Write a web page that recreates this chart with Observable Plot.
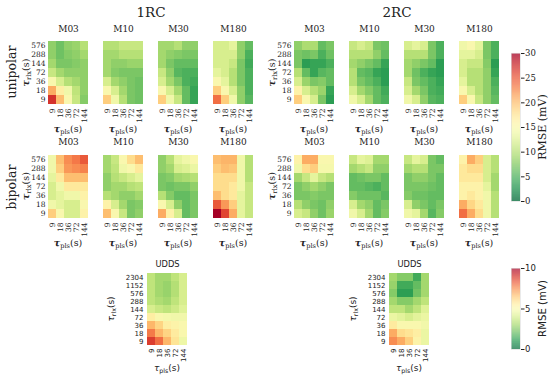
<!DOCTYPE html>
<html>
<head>
<meta charset="utf-8">
<script src="https://cdn.jsdelivr.net/npm/d3@7"></script>
<script src="https://cdn.jsdelivr.net/npm/@observablehq/plot@0.6"></script>
<style>
  body { margin: 0; background: white; }
  #root { position: relative; width: 550px; height: 378px; overflow: hidden; background: white; }
  .lbl { position: absolute; white-space: nowrap; color: #222; line-height: 1; }
</style>
</head>
<body>
<div id="root"></div>
<script>
// ---------------- data ----------------
const plsTicks = ["9", "18", "36", "72", "144"];
const rlxTicks = ["576", "288", "144", "72", "36", "18", "9"];
const rlxTicksUDDS = ["2304", "1152", "576", "288", "144", "72", "36", "18", "9"];
const models = ["M03", "M10", "M30", "M180"];
const groups = ["1RC", "2RC"];
const modes = ["unipolar", "bipolar"];
const cbTicksMain = [0, 5, 10, 15, 20, 25, 30];
const cbTicksUDDS = [0, 5, 10];

// rows: tau_rlx 576 ... 9 ; cols: tau_pls 9 ... 144  (RMSE, mV)
const uni1RC_M03 = [
  [8, 6.5, 8, 8.5, 10],
  [8, 6.5, 7.5, 8, 9],
  [9, 7, 7, 7.5, 8],
  [11, 9, 8, 8, 8],
  [15, 12, 10, 9, 8],
  [21, 16.5, 14, 10.5, 8],
  [27, 20, 15, 11, 7.5]
];
const uni1RC_M10 = [
  [10, 10, 11, 11, 11],
  [9, 9, 10, 10, 10],
  [9, 8, 8, 8.5, 8.5],
  [9, 7.5, 7, 7, 7],
  [12, 9, 8, 7, 6.5],
  [15, 12, 9, 7, 6.5],
  [19, 14, 10, 7, 6.5]
];
const uni1RC_M30 = [
  [9, 9, 10, 8, 8],
  [9, 8, 7.5, 7, 7],
  [9, 7, 6, 6, 6],
  [11, 8, 5.5, 5, 5],
  [12, 9, 7, 5, 4.5],
  [15, 12, 9, 6, 4],
  [19, 14, 11, 6, 4]
];
const uni1RC_M180 = [
  [12, 12, 13, 8, 6],
  [12, 12, 12, 8, 5],
  [12, 12, 11, 7, 4.5],
  [13, 12, 10, 7, 5],
  [15, 13, 10, 7, 5],
  [19, 15, 12, 8, 5],
  [24, 19, 14, 8, 5.5]
];
const uni2RC_M03 = [
  [8, 9.5, 9.5, 6, 7],
  [7, 6.5, 7, 5, 6.5],
  [7, 3.5, 4, 4, 5],
  [10, 6, 4, 5.5, 6],
  [12, 8.5, 7, 7.5, 6],
  [16, 12, 10, 8.5, 4],
  [19, 15, 12, 7, 3.5]
];
const uni2RC_M10 = [
  [11, 12, 11, 7, 6.5],
  [10, 10, 10, 8, 6],
  [9, 8, 7, 6, 4],
  [10, 6, 5.5, 4, 3.5],
  [10, 7, 6, 5, 3.5],
  [12, 9, 7.5, 6, 4.5],
  [14, 12, 9, 6, 5]
];
const uni2RC_M30 = [
  [12, 13, 12, 7, 5],
  [10, 10, 10, 7, 5],
  [9, 8, 7, 6, 3.5],
  [9, 6.5, 5, 4, 3.5],
  [11, 7, 6, 5, 4],
  [12, 9, 7, 5, 4.5],
  [14, 12, 8, 5.5, 5]
];
const uni2RC_M180 = [
  [14, 15, 13, 7, 5],
  [13, 13, 12, 7, 5],
  [12, 11, 11, 7.5, 3.5],
  [12, 10, 10, 8, 4],
  [13, 10, 10, 8, 5],
  [15, 12, 10, 8, 5.5],
  [19, 15, 11, 8, 6]
];
const bi1RC_M03 = [
  [14, 20, 22.5, 23.5, 25],
  [14, 19, 22, 22.5, 23],
  [13, 17, 20, 20, 20],
  [12, 14, 17, 17, 17],
  [12, 13, 14, 14, 16],
  [14, 13, 12, 12, 15],
  [19, 15, 12, 12, 16]
];
const bi1RC_M10 = [
  [9, 11, 15, 18, 20],
  [9, 10.5, 14, 15, 17],
  [8, 10, 11, 12, 13],
  [8, 9, 9, 10, 10.5],
  [10, 9, 8, 8, 9],
  [16, 12, 9, 7, 7.5],
  [20, 15, 11, 7, 8]
];
const bi1RC_M30 = [
  [8, 10, 13, 14, 15],
  [8, 9, 12, 12.5, 13.5],
  [7, 7.5, 9, 9.5, 10],
  [7, 6.5, 7, 7, 8],
  [10, 7.5, 6, 6, 7],
  [15, 12, 8, 6, 7],
  [21, 16, 12, 6, 7]
];
const bi1RC_M180 = [
  [20, 20.5, 20.5, 14, 10],
  [19, 20, 19.5, 14, 10],
  [18, 18, 18, 14, 10],
  [18, 18, 17, 14, 11],
  [20, 18, 17, 13, 11],
  [25, 22, 19, 13, 11],
  [30, 26, 21, 13, 11]
];
const bi2RC_M03 = [
  [16, 21, 21, 15, 15],
  [14, 18, 19, 14.5, 14.5],
  [9, 11, 13, 11, 10],
  [7, 8, 9, 8, 7],
  [7, 7, 7.5, 7, 7],
  [10, 8, 7, 6.5, 8],
  [12, 11, 8, 6.5, 8.5]
];
const bi2RC_M10 = [
  [11, 13, 12.5, 9, 9],
  [9, 10, 11, 8, 8],
  [6, 6.5, 7, 7, 6],
  [6, 6, 5.5, 5, 6],
  [7.5, 6.5, 6.5, 6.5, 5.5],
  [12, 9, 8, 6, 7],
  [14, 12, 9, 6, 7.5]
];
const bi2RC_M30 = [
  [11, 13, 12, 7, 6],
  [9, 10, 10, 7, 7],
  [7, 8, 8, 7, 6],
  [7, 7, 7, 6.5, 6],
  [7.5, 6.5, 6.5, 6, 6],
  [12, 8, 7, 6, 7],
  [14, 13, 9, 5.5, 7.5]
];
const bi2RC_M180 = [
  [16, 21, 19, 12, 10],
  [17, 18, 18, 12, 10],
  [17, 17, 17, 12, 9],
  [16, 16, 16, 13, 9],
  [16, 17, 16, 14, 10],
  [21, 18.5, 17, 14, 10],
  [24, 21, 18, 14, 10]
];
// UDDS rows: tau_rlx 2304 ... 9
const udds1RC = [
  [3.5, 3, 3, 3.5, 4],
  [3.5, 3, 2.8, 3.3, 4],
  [3.5, 3, 2.8, 3.3, 4],
  [3.5, 3.2, 3, 3.5, 4],
  [4, 3.7, 3.5, 3.8, 4.2],
  [5.5, 5, 4.8, 4.7, 4.7],
  [6.8, 6.2, 5.5, 5.3, 5],
  [7.8, 6.8, 6.2, 5.6, 5],
  [8.8, 8, 6.8, 5.8, 4.6]
];
const udds2RC = [
  [3, 2.5, 2.5, 1.5, 3],
  [2.8, 1.5, 1.5, 2, 3],
  [2.5, 1.2, 1.2, 2.2, 3],
  [3, 2.5, 2.5, 3, 3.5],
  [3.5, 3.5, 3, 3.5, 4.2],
  [4.5, 4.3, 4, 4.3, 4.5],
  [5.6, 5, 5, 5, 4.7],
  [7, 6, 5.8, 5.5, 4.5],
  [7.5, 7, 6.3, 5.3, 4.5]
];

// ---------------- drawing ----------------
const root = document.getElementById("root");
const serif = "'DejaVu Serif', serif";
const sans = "'DejaVu Sans', sans-serif";
const ink = "#222";

function tauLabel(sel, sub, fs, bold) {
  sel.append("tspan").text("τ").attr("font-style", "italic").attr("font-weight", bold ? "bold" : null);
  sel.append("tspan").text(sub).attr("font-size", fs * 0.7).attr("dy", fs * 0.22);
  sel.append("tspan").text("(s)").attr("dy", -fs * 0.22);
}

function heat(o) {
  const {values, rows, left, top, w, h, max, title, showY, font, fs, titleFs, labelFs, titleGap, ylabelOff} = o;
  const data = rows.flatMap((r, i) => plsTicks.map((c, j) => ({pls: c, rlx: r, v: values[i][j]})));
  const mL = 50, mR = 6, mT = 24, mB = 40;
  const svg = Plot.plot({
    width: mL + w + mR, height: mT + h + mB,
    marginLeft: mL, marginRight: mR, marginTop: mT, marginBottom: mB,
    style: {background: "transparent", fontFamily: font, fontSize: fs + "px", overflow: "visible", color: ink},
    x: {domain: plsTicks, padding: 0, tickRotate: -90, tickSize: 0, tickPadding: 2, label: null},
    y: {domain: rows, padding: 0, tickSize: 0, tickPadding: 3, label: null, axis: showY ? "left" : null},
    color: {type: "linear", scheme: "RdYlGn", reverse: true, domain: [0, max]},
    marks: [
      Plot.cell(data, {x: "pls", y: "rlx", fill: "v", inset: 0, shapeRendering: "crispEdges"}),
      Plot.text([title], {frameAnchor: "top", lineAnchor: "middle", dy: -titleGap, fontSize: titleFs, fill: ink})
    ]
  });
  svg.style.position = "absolute";
  svg.style.left = (left - mL) + "px";
  svg.style.top = (top - mT) + "px";
  const s = d3.select(svg);
  const xl = s.append("text").attr("x", mL + w / 2).attr("y", mT + h + o.xlabelY)
    .attr("text-anchor", "middle").attr("font-size", labelFs).attr("fill", ink).attr("font-family", font);
  tauLabel(xl, "pls", labelFs, font === serif);
  if (showY) {
    const yl = s.append("text")
      .attr("transform", `translate(${mL - ylabelOff},${mT + h / 2}) rotate(-90)`)
      .attr("text-anchor", "middle").attr("font-size", labelFs).attr("fill", ink).attr("font-family", font);
    tauLabel(yl, "rlx", labelFs, font === serif);
  }
  root.appendChild(svg);
}

function colorbar(o) {
  const {left, top, w, h, max, ticks, font, fs, labelFs, labelX} = o;
  const step = max / 300;
  const stops = d3.range(0, 300).map(i => i * step);
  const mL = 0, mR = 40, mT = 8, mB = 8;
  const svg = Plot.plot({
    width: mL + w + mR, height: mT + h + mB,
    marginLeft: mL, marginRight: mR, marginTop: mT, marginBottom: mB,
    style: {background: "transparent", fontFamily: font, fontSize: fs + "px", overflow: "visible", color: ink},
    x: {domain: [0, 1], axis: null},
    y: {domain: [0, max], ticks, tickFormat: d3.format("d"), tickSize: 3.5, tickPadding: 1, label: null, axis: "right"},
    color: {type: "linear", scheme: "RdYlGn", reverse: true, domain: [0, max]},
    marks: [
      Plot.rect(stops, {x1: 0, x2: 1, y1: d => d, y2: d => d + step * 1.02, fill: d => d + step / 2}),
      Plot.frame({stroke: "#ddd", strokeWidth: 0.6})
    ]
  });
  svg.style.position = "absolute";
  svg.style.left = (left - mL) + "px";
  svg.style.top = (top - mT) + "px";
  d3.select(svg).append("text")
    .attr("transform", `translate(${mL + labelX},${mT + h / 2}) rotate(-90)`)
    .attr("text-anchor", "middle").attr("dominant-baseline", "middle")
    .attr("font-size", labelFs).attr("fill", ink).attr("font-family", font)
    .text("RMSE (mV)");
  root.appendChild(svg);
}

function label(text, x, y, size, font, rotate) {
  const d = document.createElement("div");
  d.className = "lbl";
  d.textContent = text;
  d.style.fontFamily = font;
  d.style.fontSize = size + "px";
  d.style.left = x + "px";
  d.style.top = y + "px";
  d.style.transform = `translate(-50%,-50%)` + (rotate ? " rotate(-90deg)" : "");
  root.appendChild(d);
}

const grid = {
  "1RC": {unipolar: [uni1RC_M03, uni1RC_M10, uni1RC_M30, uni1RC_M180],
          bipolar: [bi1RC_M03, bi1RC_M10, bi1RC_M30, bi1RC_M180]},
  "2RC": {unipolar: [uni2RC_M03, uni2RC_M10, uni2RC_M30, uni2RC_M180],
          bipolar: [bi2RC_M03, bi2RC_M10, bi2RC_M30, bi2RC_M180]}
};
const groupLeft = {"1RC": 48, "2RC": 294};
const rowTop = {unipolar: 39, bipolar: 152};
const rowH = {unipolar: 67, bipolar: 68};

groups.forEach(g => {
  modes.forEach(m => {
    models.forEach((name, k) => {
      heat({
        values: grid[g][m][k], rows: rlxTicks,
        left: groupLeft[g] + k * 55, top: rowTop[m], w: 40, h: rowH[m], max: 30,
        title: name, showY: k === 0, font: serif, fs: 7.5, titleFs: 9, labelFs: 9.5,
        titleGap: 10, ylabelOff: 19, xlabelY: 26
      });
    });
  });
});

[[udds1RC, 146], [udds2RC, 388]].forEach(([vals, left]) => {
  heat({
    values: vals, rows: rlxTicksUDDS, left, top: 272, w: 42, h: 74, max: 10,
    title: "UDDS", showY: true, font: sans, fs: 7, titleFs: 8.3, labelFs: 9,
    titleGap: 8, ylabelOff: 32, xlabelY: 25
  });
});

colorbar({left: 511, top: 53, w: 9, h: 148, max: 30, ticks: cbTicksMain, font: serif, fs: 8.5, labelFs: 11, labelX: 32});
colorbar({left: 511, top: 268, w: 9, h: 81, max: 10, ticks: cbTicksUDDS, font: sans, fs: 8.5, labelFs: 10.2, labelX: 32});

label(groups[0], 151, 13, 13.5, serif);
label(groups[1], 397, 13, 13.5, serif);
label(modes[0], 12, 72, 12.5, serif, true);
label(modes[1], 12, 187, 12.5, serif, true);
</script>
</body>
</html>
